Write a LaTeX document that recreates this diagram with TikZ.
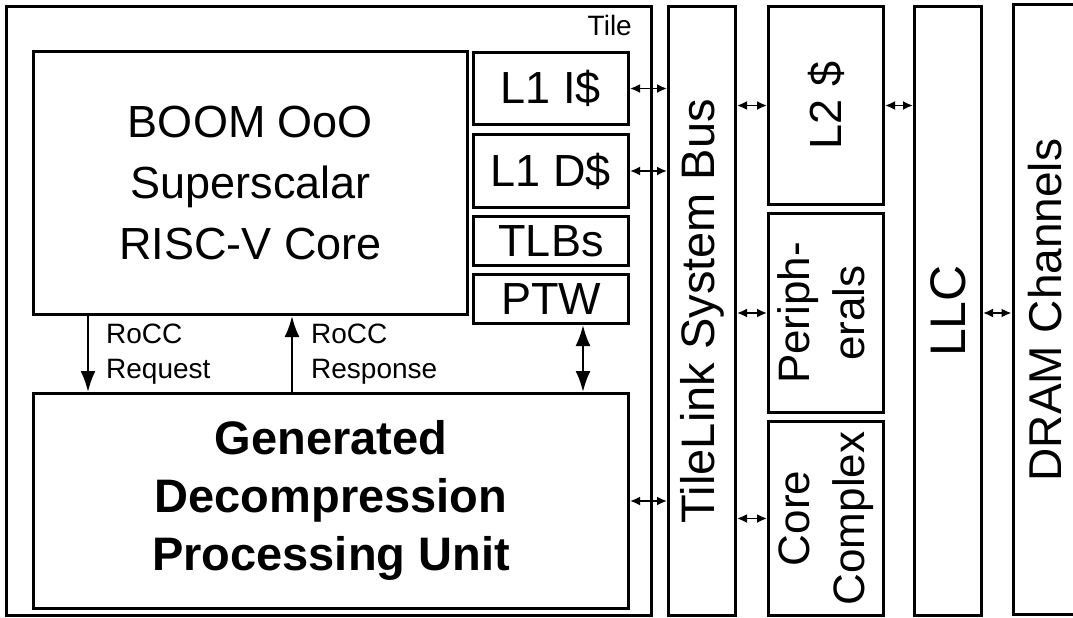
\documentclass[tikz,border=0pt]{standalone}
\usepackage{fontspec}
\setmainfont{Liberation Sans}
\usepackage{tikz}
\usetikzlibrary{shapes, arrows.meta, positioning, calc}

\tikzset{
  blk/.style={draw, line width=3pt, inner sep=0pt, anchor=north west, align=center},
  bigtxt/.style={font=\fontsize{45}{61}\selectfont},
  note/.style={font=\fontsize{28}{35}\selectfont, inner sep=0pt, align=left, anchor=north west},
  link/.style={line width=1.8pt, {Latex[length=10pt,width=9pt]}-{Latex[length=10pt,width=9pt]}},
  rocc/.style={line width=2.4pt, -{Latex[length=21pt,width=15pt]}},
  roccboth/.style={line width=2.4pt, {Latex[length=21pt,width=15pt]}-{Latex[length=21pt,width=15pt]}},
}

\begin{document}
\begin{tikzpicture}[x=1pt, y=-1pt]
  \useasboundingbox (0,0) rectangle (1073,618);

  % tile and its contents
  \node[blk, minimum width=645pt, minimum height=609pt] (tile) at (5,5) {};
  \node[anchor=north east, inner sep=0pt, font=\fontsize{28}{30}\selectfont] (tilename) at ([xshift=-21pt,yshift=-10pt]tile.north east) {Tile};
  \node[blk, bigtxt, minimum width=434pt, minimum height=263pt] (core) at (32,50) {BOOM OoO\\Superscalar\\RISC-V Core};
  \node[blk, bigtxt, minimum width=155pt, minimum height=72pt] (icache) at (472,51) {L1 I\$};
  \node[blk, bigtxt, minimum width=155pt, minimum height=73pt] (dcache) at ([yshift=-7pt]icache.south west) {L1 D\$};
  \node[blk, bigtxt, minimum width=155pt, minimum height=49pt] (tlb) at ([yshift=-6pt]dcache.south west) {TLBs};
  \node[blk, bigtxt, minimum width=155pt, minimum height=49pt] (ptw) at ([yshift=-6pt]tlb.south west) {PTW};
  \node[blk, font=\fontsize{47}{58}\selectfont\bfseries, minimum width=595pt, minimum height=215pt] (dpu) at (32,392) {\raisebox{-4pt}{\begin{tabular}{@{}c@{}}Generated\\Decompression\\Processing Unit\end{tabular}}};

  % system side
  \node[blk, minimum width=67pt, minimum height=609pt] (bus) at (667,5) {\fontsize{47}{56}\selectfont\rotatebox{90}{TileLink System Bus}};
  \node[blk, bigtxt, minimum width=115pt, minimum height=198pt] (ltwo) at (767,5) {\rotatebox{90}{L2 \$}};
  \node[blk, minimum width=115pt, minimum height=199pt] (periph) at (767,212) {\fontsize{44}{55}\selectfont\rotatebox{90}{\begin{tabular}{@{}c@{}}Periph-\\erals\end{tabular}}};
  \node[blk, minimum width=115pt, minimum height=194pt] (cplx) at (767,420) {\fontsize{44}{55}\selectfont\rotatebox{90}{\begin{tabular}{@{}c@{}}Core\\Complex\end{tabular}}};
  \node[blk, minimum width=67pt, minimum height=609pt] (llc) at (913,5) {\fontsize{50}{56}\selectfont\rotatebox{90}{LLC}};
  % DRAM box runs off the right edge
  \draw[line width=3pt] (1080,5) -- (1013,5) -- (1013,614) -- (1080,614);
  \coordinate (dramedge) at (1011.5,310);
  \node[inner sep=0pt] (dram) at (1045,310) {\fontsize{46}{56}\selectfont\rotatebox{90}{DRAM Channels}};

  % RoCC and PTW links
  \draw[rocc] ([xshift=56pt]core.south west) -- ([xshift=56pt]core.south west |- dpu.north);
  \draw[rocc] ([xshift=260pt]core.south west |- dpu.north) -- ([xshift=260pt]core.south west);
  \draw[roccboth] ([xshift=32pt]ptw.south) -- ([xshift=32pt]ptw.south |- dpu.north);
  \node[note] (reqtxt) at ([xshift=74pt,yshift=-8pt]core.south west) {RoCC\\Request};
  \node[note] (resptxt) at ([xshift=279pt,yshift=-8pt]core.south west) {RoCC\\Response};

  % bus links
  \draw[link] (icache.east) -- (icache.east -| bus.west);
  \draw[link] (dcache.east) -- (dcache.east -| bus.west);
  \draw[link] (dpu.east) -- (dpu.east -| bus.west);
  \draw[link] (ltwo.west -| bus.east) -- (ltwo.west);
  \draw[link] (periph.west -| bus.east) -- (periph.west);
  \draw[link] (cplx.west -| bus.east) -- (cplx.west);
  \draw[link] (ltwo.east) -- (ltwo.east -| llc.west);
  \draw[link] (periph.east -| llc.east) -- (periph.east -| dramedge);
\end{tikzpicture}
\end{document}
